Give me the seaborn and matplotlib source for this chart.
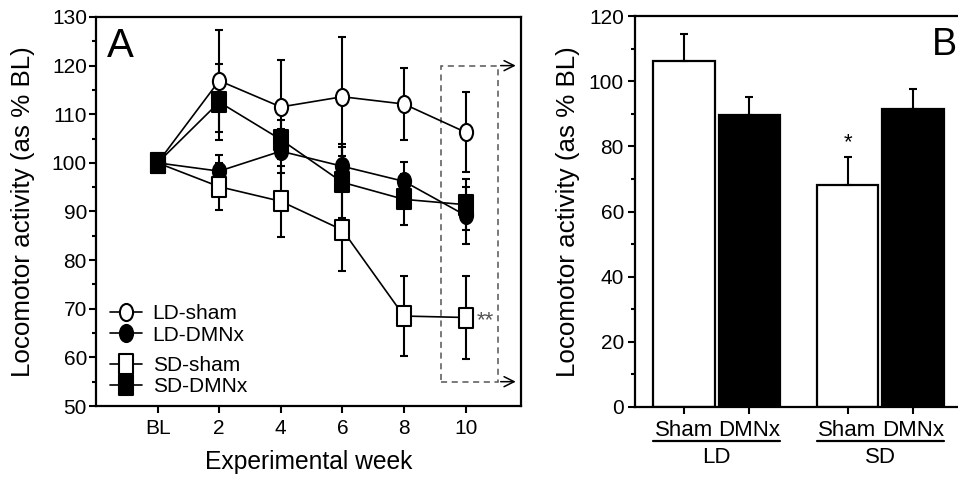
import seaborn as sns
import pandas as pd
import matplotlib.pyplot as plt
from matplotlib.patches import Rectangle
from matplotlib.lines import Line2D
from matplotlib.path import Path
from matplotlib.transforms import Affine2D
from matplotlib.ticker import MultipleLocator

sns.set_style("ticks")
plt.rcParams["font.family"] = ["Liberation Sans", "DejaVu Sans"]
plt.rcParams["text.color"] = "black"
plt.rcParams["axes.labelcolor"] = "black"
plt.rcParams["axes.edgecolor"] = "black"

# ---- panel A data (weekly locomotor activity, % of baseline) ----
weeks = [0, 2, 4, 6, 8, 10]
week_labels = ["BL", "2", "4", "6", "8", "10"]

ld_sham = [100, 116.9, 111.5, 113.6, 112.1, 106.3]
ld_sham_err = [0, 10.5, 9.7, 12.2, 7.4, 8.2]
ld_dmnx = [100, 98.3, 102.4, 99.3, 96.2, 89.2]
ld_dmnx_err = [0, 3.3, 4.5, 4.5, 4.0, 5.8]
sd_sham = [100, 95.1, 92.1, 86.2, 68.5, 68.2]
sd_sham_err = [0, 4.8, 7.3, 8.5, 8.3, 8.6]
sd_dmnx = [100, 112.5, 104.8, 96.0, 92.5, 91.4]
sd_dmnx_err = [0, 7.8, 4.0, 7.3, 5.2, 5.3]

# ---- panel B data (week 10) ----
photoperiod = ["LD", "LD", "SD", "SD"]
surgery = ["Sham", "DMNx", "Sham", "DMNx"]
wk10_mean = [106.2, 89.5, 68.2, 91.4]
wk10_err = [8.2, 5.5, 8.6, 6.1]

# slightly tall markers, like the original scan
ellipse = Path.unit_circle().transformed(Affine2D().scale(0.77, 1.0))
tall_sq = Path([(-0.39, -0.5), (0.39, -0.5), (0.39, 0.5), (-0.39, 0.5), (-0.39, -0.5)],
               [Path.MOVETO, Path.LINETO, Path.LINETO, Path.LINETO, Path.CLOSEPOLY])

fig = plt.figure(figsize=(9.58, 4.83), dpi=100)
W, H = 958, 483
axA = fig.add_axes([96 / W, (H - 406) / H, (521 - 96) / W, (406 - 17) / H])
axB = fig.add_axes([635 / W, (H - 407) / H, (962 - 635) / W, (407 - 16) / H])

series = [
    ("LD-sham", ld_sham, ld_sham_err, ellipse, "white", 12.3),
    ("LD-DMNx", ld_dmnx, ld_dmnx_err, ellipse, "black", 12.3),
    ("SD-sham", sd_sham, sd_sham_err, tall_sq, "white", 13.7),
    ("SD-DMNx", sd_dmnx, sd_dmnx_err, tall_sq, "black", 13.7),
]
handles = []
for name, vals, errs, mk, fc, size in series:
    axA.errorbar(weeks, vals, yerr=errs, fmt="none", ecolor="black",
                 elinewidth=1.5, capsize=2.8, capthick=1.5, zorder=2)
    sns.lineplot(x=weeks, y=vals, ax=axA, color="black", lw=1.2,
                 marker=mk, mfc=fc, mec="black", mew=1.5, ms=size, zorder=3)
    handles.append(Line2D([], [], color="black", lw=1.2, marker=mk, mfc=fc,
                          mec="black", mew=1.5, ms=size, label=name))

axA.set_xlim(-2, 11.8)
axA.set_ylim(50, 130)
axA.set_xticks(weeks)
axA.set_xticklabels(week_labels)
axA.yaxis.set_major_locator(MultipleLocator(10))
axA.yaxis.set_minor_locator(MultipleLocator(5))
axA.set_xlabel("Experimental week", fontsize=17.7, va="top")
axA.xaxis.set_label_coords(0.5, -0.113)
axA.set_ylabel("Locomotor activity (as % BL)", fontsize=18.7)
axA.yaxis.set_label_coords(-0.143, 0.5)
axA.text(0.026, 0.897, "A", transform=axA.transAxes, fontsize=29,
         ha="left", va="baseline")

# two small legends so the LD and SD pairs sit apart
leg_kw = dict(loc="center left", frameon=False, fontsize=15,
              handlelength=1.55, handletextpad=0.5, labelspacing=0.12,
              borderpad=0, borderaxespad=0)
legA1 = axA.legend(handles=handles[:2], bbox_to_anchor=(0.033, 0.2095), **leg_kw)
axA.add_artist(legA1)
axA.legend(handles=handles[2:], bbox_to_anchor=(0.033, 0.077), **leg_kw)

# dashed box around week 10 and arrows toward panel B
box_x0, box_x1, box_y0, box_y1 = 9.2, 11.05, 55, 120
axA.add_patch(Rectangle((box_x0, box_y0), box_x1 - box_x0, box_y1 - box_y0,
                        fill=False, ls=(0, (4, 3)), lw=1.1, ec="#555555"))
for yy in (box_y0, box_y1):
    axA.annotate("", xy=(11.72, yy), xytext=(box_x1, yy),
                 arrowprops=dict(arrowstyle="->", lw=1.1, color="black",
                                 mutation_scale=18))
axA.annotate("**", xy=(weeks[-1], sd_sham[-1]), xytext=(8, -2),
             textcoords="offset points", ha="left", va="center",
             fontsize=16, color="#555555")

for ax in (axA, axB):
    for s in ax.spines.values():
        s.set_linewidth(1.6)
        s.set_color("black")
    ax.tick_params(which="both", direction="out", width=1.5, labelsize=15,
                   colors="black")
    ax.tick_params(which="major", length=5)
    ax.tick_params(which="minor", length=3)
axA.tick_params(axis="y", pad=1.5)
axA.tick_params(axis="x", pad=4.5)
axB.tick_params(axis="y", pad=3)
axB.spines["right"].set_visible(False)

# ---- panel B ----
dfB = pd.DataFrame({"group": photoperiod, "surgery": surgery,
                    "value": wk10_mean, "err": wk10_err})
sns.barplot(data=dfB, x="group", y="value", hue="surgery", ax=axB,
            palette={"Sham": "white", "DMNx": "black"}, edgecolor="black",
            linewidth=1.6, width=0.8, gap=0.06, errorbar=None, legend=False)
bars = sorted(axB.patches, key=lambda p: p.get_x())
xs = [p.get_x() + p.get_width() / 2 for p in bars]
axB.errorbar(xs, wk10_mean, yerr=[[0] * 4, wk10_err], fmt="none",
             ecolor="black", elinewidth=1.5, capsize=2.6, capthick=1.5,
             zorder=1)
axB.text(xs[2], wk10_mean[2] + wk10_err[2] + 1, "*", ha="center",
         va="bottom", fontsize=16)
axB.set_xlim(-0.5, 1.5)
axB.set_ylim(0, 120)
axB.yaxis.set_major_locator(MultipleLocator(20))
axB.yaxis.set_minor_locator(MultipleLocator(10))
axB.set_xticks(xs)
axB.set_xticklabels(surgery)
axB.tick_params(axis="x", pad=4, labelsize=16)
axB.set_xlabel("")
axB.set_ylabel("Locomotor activity (as % BL)", fontsize=18.7)
axB.yaxis.set_label_coords(-0.168, 0.5)
axB.text(0.908, 0.900, "B", transform=axB.transAxes, fontsize=27,
         ha="left", va="baseline")
trans = axB.get_xaxis_transform()
for i, grp in enumerate(["LD", "SD"]):
    left = bars[2 * i].get_x()
    right = bars[2 * i + 1].get_x() + bars[2 * i + 1].get_width()
    axB.plot([left, right], [-0.087, -0.087], transform=trans, color="black",
             lw=1.6, clip_on=False)
    axB.text(i, -0.130, grp, transform=trans, ha="center", va="center",
             fontsize=16)

fig.savefig("out.png", dpi=100)
